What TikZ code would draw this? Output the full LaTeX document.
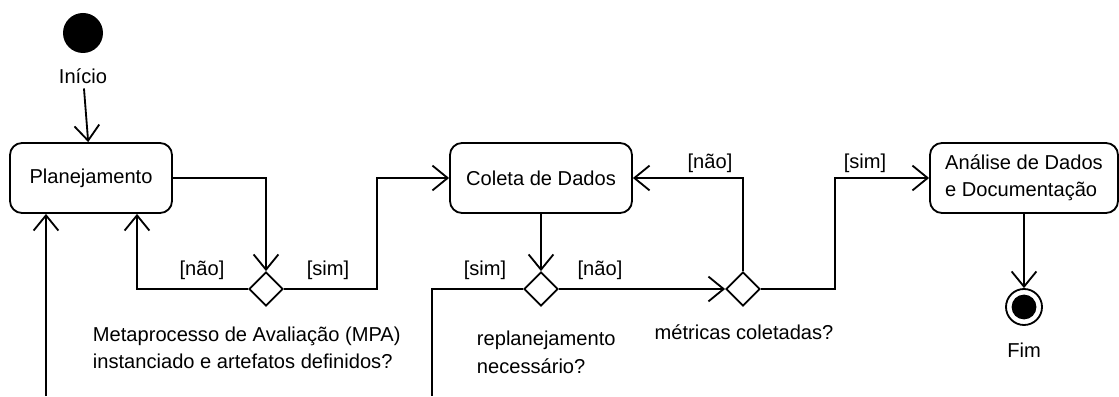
\documentclass[tikz,border=0pt]{standalone}
\usepackage{fontspec}
\setmainfont{Liberation Sans}
\usetikzlibrary{arrows.meta,shapes.geometric}

\begin{document}
\begin{tikzpicture}[
		font=\fontsize{14.3}{19.5}\selectfont,
		activity/.style={draw, rounded corners=0.3cm, line width=1.3pt, minimum height=1.75cm, align=left},
		decision/.style={draw, diamond, aspect=1, minimum size=0.85cm, inner sep=0pt, line width=1.3pt},
		flow/.style={line width=1.3pt, -{Straight Barb[length=0.38cm, width=0.62cm]}},
		plainflow/.style={line width=1.3pt}
	]
		\useasboundingbox (0,0) rectangle (27.975,9.9);

		% Start
		\node[circle, fill, minimum size=1cm, inner sep=0pt] (start) at (2.075,9.075) {};
		\node (inicio) at (2.075,8.0) {Início};

		% Activities
		\node[activity, minimum width=4.05cm] (plan) at (2.275,5.45) {Planejamento};
		\node[activity, minimum width=4.55cm] (coleta) at (13.525,5.45) {Coleta de Dados};
		\node[activity, minimum width=4.7cm] (analise) at (25.6,5.45) {Análise de Dados\\e Documentação};

		% Decisions
		\node[decision] (d1) at (6.65,2.675) {};
		\node[decision] (d2) at (13.525,2.675) {};
		\node[decision] (d3) at (18.575,2.675) {};

		\node[anchor=west, align=left] (q1) at (2.2,1.2) {Metaprocesso de Avaliação (MPA)\\instanciado e artefatos definidos?};
		\node[anchor=west, align=left] (q2) at (11.8,1.09) {replanejamento\\necessário?};
		\node (q3) at (18.6,1.6) {métricas coletadas?};

		% End
		\node[circle, draw, line width=1.3pt, minimum size=0.9cm, inner sep=0pt] (fim) at (25.6,2.225) {};
		\node[circle, fill, minimum size=0.62cm, inner sep=0pt] (fimdot) at (fim) {};
		\node (fimtxt) at (25.6,1.15) {Fim};

		% Loop back to planning (runs off the bottom)
		\coordinate (loopout) at (10.8,0);
		\coordinate (loopin) at (1.15,0);

		\draw[flow] (inicio) -- (plan);
		\draw[flow] (plan.east) -| (d1.north);
		\draw[flow] (d1.west) -| ([xshift=1.15cm]plan.south);
		\draw[flow] (d1.east) -| (9.425,5.45) -- (coleta.west);
		\draw[flow] (coleta.south) -- (d2.north);
		\draw[flow] (d2.east) -- (d3.west);
		\draw[plainflow] (d2.west) -| (loopout);
		\draw[flow] (loopin) -- (loopin |- plan.south);
		\draw[flow] (d3.north) |- (coleta.east);
		\draw[flow] (d3.east) -| (20.875,5.45) -- (analise.west);
		\draw[flow] (analise.south) -- (fim.north);

		% Guards
		\node (nao1) at (5.05,3.15) {[não]};
		\node (sim1) at (8.2,3.15) {[sim]};
		\node (sim2) at (12.125,3.15) {[sim]};
		\node (nao2) at (15.0,3.15) {[não]};
		\node (nao3) at (17.75,5.825) {[não]};
		\node (sim3) at (21.625,5.825) {[sim]};
	\end{tikzpicture}
\end{document}
